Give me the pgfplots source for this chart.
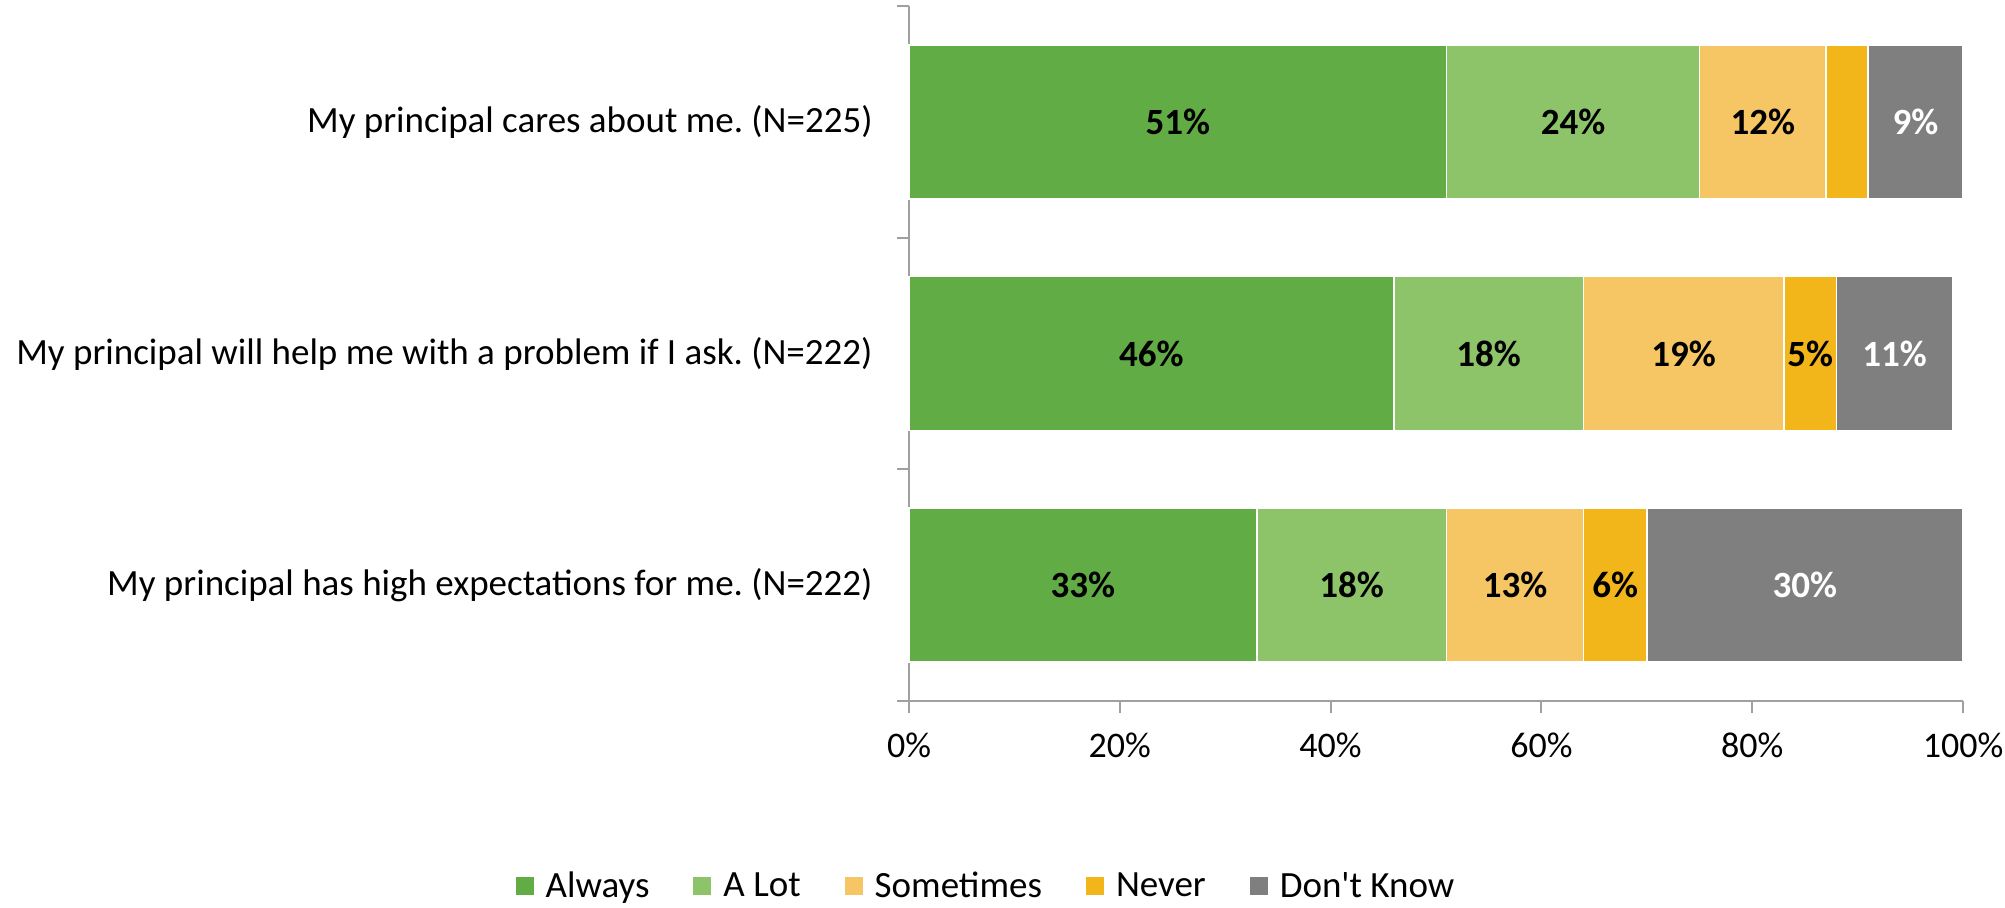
\documentclass[border=0pt]{standalone}
\usepackage{pgfplots}
\usepackage{pgfplotstable}
\pgfplotsset{compat=1.18}
\usepackage{fontspec}
\setmainfont{Carlito}
\frenchspacing
\definecolor{cAlways}{HTML}{62AC46}
\definecolor{cALot}{HTML}{8DC46A}
\definecolor{cSome}{HTML}{F6C564}
\definecolor{cNever}{HTML}{F2B61B}
\definecolor{cDK}{HTML}{7F7F7F}
\definecolor{axgray}{HTML}{A0A0A0}

% y: 0 = high expectations, 1 = help with a problem, 2 = cares about me
\pgfplotstableread{
y val
0 33
1 46
2 51
}\always
\pgfplotstableread{
y val
0 18
1 18
2 24
}\alot
\pgfplotstableread{
y val
0 13
1 19
2 12
}\sometimes
\pgfplotstableread{
y val
0 6
1 5
2 4
}\never
\pgfplotstableread{
y val
0 30
1 11
2 9
}\dontknow
% segment centres and labels
\pgfplotstableread{
y x lab
2 25.5 51
2 63 24
2 81 12
1 23 46
1 55 18
1 73.5 19
1 85.5 5
0 16.5 33
0 42 18
0 57.5 13
0 67 6
}\darklabels
\pgfplotstableread{
y x lab
2 95.5 9
1 93.5 11
0 85 30
}\lightlabels

\pgfplotsset{
  common/.style={
    scale only axis,
    width=527pt, height=347.5pt,
    xmin=0, xmax=100,
    ymin=-0.5, ymax=2.5,
    clip=false,
  },
}

\begin{document}
\begin{tikzpicture}[font=\fontsize{18}{21.6}\selectfont]
\begin{axis}[
  common,
  xbar stacked,
  bar width=77pt,
  axis x line*=bottom,
  axis y line*=left,
  axis line style={draw=axgray, line width=1pt},
  tick style={draw=axgray, line width=1pt},
  tick align=outside,
  major tick length=6pt,
  xtick={0,20,40,60,80,100},
  xticklabel={\pgfmathprintnumber{\tick}\%},
  /pgf/number format/assume math mode=true,
  xticklabel style={yshift=-6.5pt},
  ytick={-0.5,0.5,1.5,2.5},
  yticklabels={},
  extra y ticks={0,1,2},
  extra y tick labels={{My principal has high expectations for me. (N=222)},{My principal will help me with a problem if I ask. (N=222)},{My principal cares about me. (N=225)}},
  extra y tick style={major tick length=0pt, yticklabel style={anchor=east, inner sep=0pt, xshift=-18pt, font=\fontsize{18.5}{22}\selectfont}},
  legend columns=5,
  legend style={draw=none, at={(axis description cs:0,0)}, anchor=center, xshift=39pt, yshift=-92.5pt,
    font=\fontsize{18.5}{22}\selectfont,
    /tikz/every odd column/.append style={column sep=4pt},
    /tikz/every even column/.append style={column sep=20pt}},
  legend image code/.code={\fill[#1,draw=none] (0pt,-4.5pt) rectangle (9pt,4.5pt);},
]
\addplot[fill=cAlways, draw=white, line width=0.75pt] table[x=val,y=y] {\always};
\addplot[fill=cALot, draw=white, line width=0.75pt] table[x=val,y=y] {\alot};
\addplot[fill=cSome, draw=white, line width=0.75pt] table[x=val,y=y] {\sometimes};
\addplot[fill=cNever, draw=white, line width=0.75pt] table[x=val,y=y] {\never};
\addplot[fill=cDK, draw=white, line width=0.75pt] table[x=val,y=y] {\dontknow};
\legend{Always, A Lot, Sometimes, Never, Don\textquotesingle t Know}
\end{axis}
\begin{axis}[common, hide axis]
\addplot[only marks, mark=none, point meta=explicit symbolic,
  nodes near coords={\pgfplotspointmeta\%},
  every node near coord/.style={anchor=center, text=black, font=\fontsize{18.5}{22}\selectfont\bfseries}]
  table[x=x,y=y,meta=lab] {\darklabels};
\addplot[only marks, mark=none, point meta=explicit symbolic,
  nodes near coords={\pgfplotspointmeta\%},
  every node near coord/.style={anchor=center, text=white, font=\fontsize{18.5}{22}\selectfont\bfseries}]
  table[x=x,y=y,meta=lab] {\lightlabels};
\end{axis}
\pgfresetboundingbox
\path[use as bounding box] (-454.5pt,-103pt) rectangle (548pt,350.5pt);
\end{tikzpicture}
\end{document}
